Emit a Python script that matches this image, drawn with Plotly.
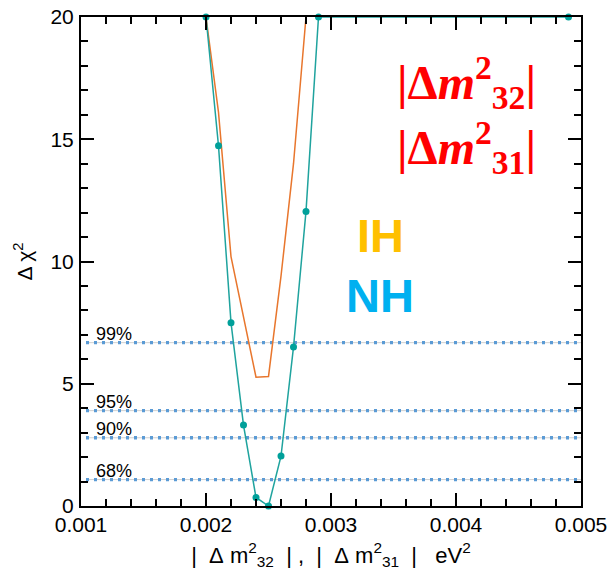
import plotly.graph_objects as go

# ---- data ----
nh_x = [0.0020, 0.0021, 0.0022, 0.0023, 0.0024, 0.0025, 0.0026, 0.0027, 0.0028, 0.0029, 0.0049]
nh_y = [20.0, 14.73, 7.50, 3.31, 0.35, 0.0, 2.04, 6.50, 12.05, 20.0, 20.0]

ih_x = [0.0020, 0.0021, 0.0022, 0.0023, 0.0024, 0.0025, 0.0026, 0.0027, 0.0028]
ih_y = [20.0, 16.1, 10.2, 7.7, 5.27, 5.3, 9.4, 14.0, 20.0]

cl_labels = ["99%", "95%", "90%", "68%"]
cl_levels = [6.68, 3.90, 2.79, 1.08]

x_ticks = [0.001, 0.002, 0.003, 0.004, 0.005]
y_ticks = [0, 5, 10, 15, 20]

# ---- geometry / style constants ----
cl_x0, cl_x1 = 0.00104, 0.005
label_x = 0.00110
W, H = 609, 579
ML, MR, MT, MB = 81, 28, 17, 73
SANS = "Liberation Sans, Arial, sans-serif"
TICK_FONT = dict(family=SANS, size=21, color="black")
SP = "\u00a0"


def px_to_paper(px, py):
    return (px - ML) / (W - ML - MR), (H - py - MB) / (H - MT - MB)


fig = go.Figure()

# confidence level lines
for lab, lev in zip(cl_labels, cl_levels):
    fig.add_trace(go.Scatter(x=[cl_x0, cl_x1], y=[lev, lev], mode="lines",
                             line=dict(color="#d0d0d0", width=1), hoverinfo="skip",
                             showlegend=False))
    fig.add_trace(go.Scatter(x=[cl_x0, cl_x1], y=[lev, lev], mode="lines",
                             line=dict(color="#5B9BD5", width=3.4, dash="3px,5px"),
                             hoverinfo="skip", showlegend=False))
    fig.add_annotation(x=label_x, y=lev, xref="x", yref="y", text=lab, showarrow=False,
                       xanchor="left", yanchor="bottom", yshift=-3,
                       font=dict(family=SANS, size=18, color="black"))

# IH curve
fig.add_trace(go.Scatter(x=ih_x, y=ih_y, mode="lines",
                         line=dict(color="#E8762D", width=1.5), showlegend=False))
# NH curve: line (clipped to the frame) + markers (not clipped)
fig.add_trace(go.Scatter(x=nh_x, y=nh_y, mode="lines",
                         line=dict(color="#1FA39E", width=1.5), showlegend=False))
fig.add_trace(go.Scatter(x=nh_x, y=nh_y, mode="markers",
                         marker=dict(color="#00A09A", size=7),
                         cliponaxis=False, showlegend=False))

# text annotations (positions given in page pixels)
math_font = dict(family="Liberation Serif, Times New Roman, serif", size=48, color="#FF0000")
texts = [
    (466, 82, "<b>|Δ<i>m</i><sup>2</sup><sub>32</sub>|</b>", math_font),
    (466, 147, "<b>|Δ<i>m</i><sup>2</sup><sub>31</sub>|</b>", math_font),
    (380, 236, "<b>IH</b>", dict(family=SANS, size=47, color="#FFC000")),
    (380, 295, "<b>NH</b>", dict(family=SANS, size=47, color="#00B0F0")),
]
for px, py, t, f in texts:
    ax_, ay_ = px_to_paper(px, py)
    fig.add_annotation(x=ax_, y=ay_, xref="paper", yref="paper", text=t,
                       xanchor="center", yanchor="middle", showarrow=False, font=f)

axis_common = dict(showgrid=False, zeroline=False, showline=True, linecolor="black", linewidth=2,
                   mirror="allticks", ticks="inside", ticklen=13, tickwidth=1.5, tickcolor="black",
                   tickfont=TICK_FONT, automargin=False)

x_title = (f"|{SP}{SP}Δ{SP}m<sup>2</sup><sub>32</sub>{SP}{SP}|{SP},{SP}{SP}|{SP}{SP}Δ{SP}"
           f"m<sup>2</sup><sub>31</sub>{SP}{SP}|{SP}{SP}{SP}eV<sup>2</sup>")

fig.update_layout(
    width=W, height=H,
    margin=dict(l=ML, r=MR, t=MT, b=MB),
    paper_bgcolor="white", plot_bgcolor="white",
    xaxis=dict(range=[0.001, 0.005], tickvals=x_ticks, tickformat=".3f",
               minor=dict(dtick=0.0002, ticks="inside", ticklen=7, tickwidth=1.5, tickcolor="black"),
               ticklabelstandoff=-1,
               title=dict(text=x_title, font=dict(family=SANS, size=22, color="black"),
                          standoff=12),
               **axis_common),
    yaxis=dict(range=[0, 20], tickvals=y_ticks,
               minor=dict(dtick=1, ticks="inside", ticklen=7, tickwidth=1.5, tickcolor="black"),
               ticklabelstandoff=1,
               title=dict(text="Δ χ<sup>2</sup>",
                          font=dict(family=SANS, size=21, color="black"),
                          standoff=12),
               **axis_common),
)

fig.write_html("out.html", config={"displayModeBar": False},
               post_script="document.body.style.margin='0';document.body.style.padding='0';")
